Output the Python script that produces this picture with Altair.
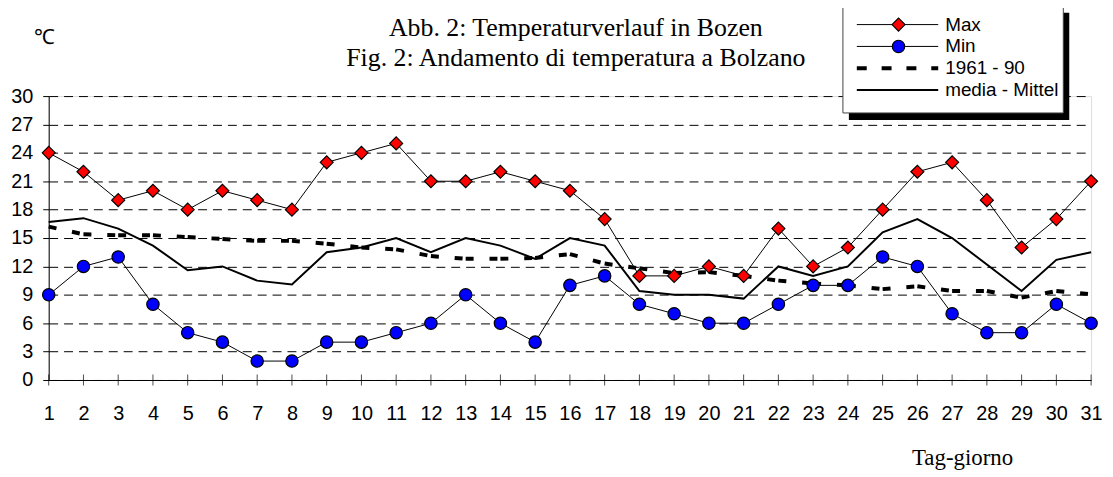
import altair as alt
import pandas as pd

days = list(range(1, 32))
t_max = [24, 22, 19, 20, 18, 20, 19, 18, 23, 24, 25, 21, 21, 22, 21, 20, 17, 11, 11, 12, 11, 16, 12, 14, 18, 22, 23, 19, 14, 17, 21]
t_min = [9, 12, 13, 8, 5, 4, 2, 2, 4, 4, 5, 6, 9, 6, 4, 10, 11, 8, 7, 6, 6, 8, 10, 10, 13, 12, 7, 5, 5, 8, 6]
t_1961_90 = [16.2, 15.4, 15.3, 15.3, 15.1, 14.9, 14.7, 14.7, 14.4, 14.0, 13.8, 13.1, 12.8, 12.8, 12.9, 13.3, 12.3, 11.8, 11.3, 11.4, 11.0,
             10.5, 10.2, 10.0, 9.6, 9.9, 9.4, 9.4, 8.7, 9.4, 9.05]
t_mean = [16.7, 17.1, 16.0, 14.2, 11.6, 12.0, 10.5, 10.1, 13.5, 14.0, 15.0, 13.5, 15.0, 14.2, 12.8, 15.0, 14.2, 9.4, 9.0, 9.0, 8.6,
          12.0, 11.0, 12.0, 15.6, 17.0, 15.0, 12.2, 9.4, 12.7, 13.5]
series_names = ["Max", "Min", "1961 - 90", "media - Mittel"]
title_lines = ["Abb. 2: Temperaturverlauf in Bozen", "Fig. 2: Andamento di temperatura a Bolzano"]
y_ticks = list(range(0, 31, 3))
x_title = "Tag-giorno"
y_title = "\u2103"

df = pd.DataFrame({"day": days, "tmax": t_max, "tmin": t_min, "norm": t_1961_90, "mean": t_mean})
leg = pd.DataFrame({"name": series_names, "idx": list(range(len(series_names)))})
ttl = pd.DataFrame({"line": title_lines, "idx": list(range(len(title_lines)))})
one = pd.DataFrame({"k": [0]})

SANS = "Liberation Sans"
SERIF = "Liberation Serif"

xscale = alt.Scale(domain=[1, 31], nice=False, zero=False)
yscale = alt.Scale(domain=[0, 30], nice=False)

xaxis = alt.Axis(values=days, title=x_title, grid=False, tickSize=0, domainColor="black", domainWidth=1,
                 labelFont=SANS, labelFontSize=20, labelColor="black", labelPadding=24, labelFlush=False,
                 labelOverlap=False,
                 titleFont=SERIF, titleFontSize=23, titleFontWeight="normal", titleColor="black",
                 titleX=920, titleY=85, titleAlign="center", titleBaseline="alphabetic")
yaxis = alt.Axis(values=y_ticks, title=y_title, grid=True, gridDash=[9, 6], gridColor="black", gridWidth=1,
                 gridOpacity=1, tickSize=6, tickColor="black", domainColor="black", domainWidth=1,
                 labelFont=SANS, labelFontSize=20, labelColor="black", labelPadding=10, labelOverlap=False,
                 titleFont=SANS, titleFontSize=21, titleFontWeight="normal", titleColor="black",
                 titleAngle=0, titleX=-5, titleY=-53, titleAlign="center", titleBaseline="alphabetic")


def X(field):
    return alt.X(field, type="quantitative", scale=xscale, axis=xaxis)


def Y(field):
    return alt.Y(field, type="quantitative", scale=yscale, axis=yaxis)


base = alt.Chart(df)

xticks = base.transform_calculate(zero_val="0").mark_tick(
    orient="vertical", size=11, thickness=1, color="black"
).encode(x=X("day"), y=Y("zero_val"))

norm_layer = base.transform_window(
    next_day="lead(day)", next_norm="lead(norm)", sort=[alt.SortField("day")]
).transform_filter("datum.next_day != null").mark_rule(
    color="black", strokeWidth=4, strokeDash=[8, 16]
).encode(x=X("day"), x2="next_day:Q", y=Y("norm"), y2="next_norm:Q")

mean_layer = base.mark_line(color="black", strokeWidth=2).encode(x=X("day"), y=Y("mean"))

max_line = base.mark_line(color="black", strokeWidth=1).encode(x=X("day"), y=Y("tmax"))
max_pts = base.mark_point(shape="diamond", filled=True, fill="#ff0000", stroke="black", strokeWidth=1.2,
                          size=170, opacity=1).encode(x=X("day"), y=Y("tmax"))
min_line = base.mark_line(color="black", strokeWidth=1).encode(x=X("day"), y=Y("tmin"))
min_pts = base.mark_point(shape="circle", filled=True, fill="#0000ff", stroke="black", strokeWidth=1.2,
                          size=155, opacity=1).encode(x=X("day"), y=Y("tmin"))

# title lines (text)
title_txt = alt.Chart(ttl).transform_calculate(ty="-61 + 31 * datum.idx").mark_text(
    align="center", baseline="alphabetic", font=SERIF, fontSize=26, color="black"
).encode(x=alt.value(531), y=alt.Y("ty:Q", scale=None), text="line:N")

# legend
shadow = alt.Chart(one).mark_rect(color="black").encode(
    x=alt.value(806), x2=alt.value(1028), y=alt.value(-84), y2=alt.value(24))
box = alt.Chart(one).mark_rect(fill="white", stroke="#444444", strokeWidth=1).encode(
    x=alt.value(800), x2=alt.value(1022), y=alt.value(-90), y2=alt.value(17))

legbase = alt.Chart(leg).transform_calculate(ly="-72 + 22 * datum.idx")
ly = alt.Y("ly:Q", scale=None)
leg_thin = legbase.transform_filter("datum.idx <= 1").mark_rule(color="black", strokeWidth=1).encode(
    x=alt.value(814), x2=alt.value(896), y=ly)
leg_dash = legbase.transform_filter("datum.idx == 2").mark_rule(color="black", strokeWidth=4, strokeDash=[10, 15]).encode(
    x=alt.value(814), x2=alt.value(896), y=ly)
leg_mean = legbase.transform_filter("datum.idx == 3").mark_rule(color="black", strokeWidth=2).encode(
    x=alt.value(814), x2=alt.value(896), y=ly)
leg_dia = legbase.transform_filter("datum.idx == 0").mark_point(shape="diamond", filled=True, fill="#ff0000",
                                                                stroke="black", strokeWidth=1.2, size=170, opacity=1).encode(
    x=alt.value(856), y=ly)
leg_cir = legbase.transform_filter("datum.idx == 1").mark_point(shape="circle", filled=True, fill="#0000ff",
                                                                stroke="black", strokeWidth=1.2, size=155, opacity=1).encode(
    x=alt.value(856), y=ly)
leg_txt = legbase.mark_text(align="left", baseline="middle", font=SANS, fontSize=19, color="black").encode(
    x=alt.value(903), y=ly, text="name:N")

chart = alt.layer(
    norm_layer, mean_layer, max_line, min_line, max_pts, min_pts, xticks, title_txt,
    shadow, box, leg_thin, leg_dash, leg_mean, leg_dia, leg_cir, leg_txt,
).properties(
    width=1050, height=286,
    autosize=alt.AutoSizeParams(type="none"),
    padding={"left": 41, "top": 87, "right": 14, "bottom": 96},
).configure_view(stroke=None).configure(background="white")

chart.save("out.html", embed_options={"renderer": "svg", "actions": False})
